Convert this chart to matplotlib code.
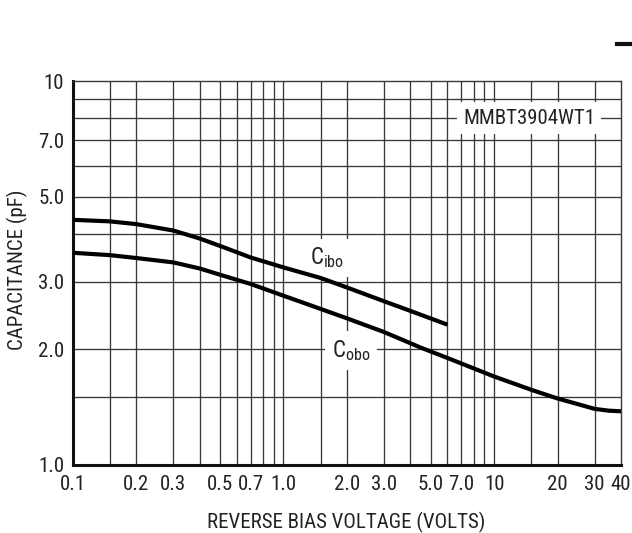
import matplotlib
matplotlib.use("Agg")
import matplotlib.pyplot as plt
from matplotlib.lines import Line2D

# narrow face if one is installed, otherwise the closest plain sans
plt.rcParams['font.family'] = ['Liberation Sans Narrow', 'Roboto Condensed', 'Roboto', 'DejaVu Sans']
plt.rcParams['font.stretch'] = 'condensed'

# data
v_cibo = [0.1, 0.15, 0.2, 0.3, 0.4, 0.5, 0.7, 1.0, 1.5, 2.0, 3.0, 4.0, 6.0]
c_cibo = [4.35, 4.31, 4.24, 4.08, 3.89, 3.72, 3.47, 3.27, 3.07, 2.90, 2.67, 2.52, 2.32]

v_cobo = [0.1, 0.15, 0.2, 0.3, 0.4, 0.5, 0.7, 1.0, 1.5, 2.0, 3.0, 4.5, 6.0, 10, 15, 20, 25, 30, 35, 40]
c_cobo = [3.57, 3.52, 3.46, 3.37, 3.25, 3.13, 2.96, 2.76, 2.55, 2.41, 2.22, 2.02, 1.90, 1.70, 1.57, 1.49, 1.44, 1.40, 1.385, 1.38]

x_grid = [0.15, 0.2, 0.3, 0.4, 0.5, 0.6, 0.7, 0.8, 0.9, 1.0, 1.5, 2, 3, 4, 5, 6, 7, 8, 9, 10, 15, 20, 30]
y_grid = [1.5, 2, 3, 4, 5, 6, 7, 8, 9]

x_ticks = [0.1, 0.2, 0.3, 0.5, 0.7, 1.0, 2.0, 3.0, 5.0, 7.0, 10, 20, 30, 40]
x_labels = ['0.1', '0.2', '0.3', '0.5', '0.7', '1.0', '2.0', '3.0', '5.0', '7.0', '10', '20', '30', '40']
y_ticks = [1.0, 2.0, 3.0, 5.0, 7.0, 10]
y_labels = ['1.0', '2.0', '3.0', '5.0', '7.0', '10']

fig = plt.figure(figsize=(6.32, 5.33), dpi=100)
ax = fig.add_axes([72.7 / 632, 68 / 533, 548.3 / 632, 384 / 533])
ax.set_xscale('log')
ax.set_yscale('log')
ax.set_xlim(0.1, 40)
ax.set_ylim(1.0, 10)

gc = '#383838'
for xv in x_grid:
    ax.axvline(xv, color=gc, lw=0.95, zorder=1)
for yv in y_grid:
    ax.axhline(yv, color=gc, lw=0.95, zorder=1)

ax.plot(v_cibo, c_cibo, color='black', lw=3.0, solid_capstyle='butt',
        solid_joinstyle='round', zorder=4)
ax.plot(v_cobo, c_cobo, color='black', lw=3.0, solid_capstyle='butt',
        solid_joinstyle='round', zorder=4)

ax.set_xticks(x_ticks)
ax.set_xticklabels(x_labels)
ax.set_yticks(y_ticks)
ax.set_yticklabels(y_labels)
ax.minorticks_off()
ax.tick_params(length=0, labelsize=15, colors='#222222')
ax.tick_params(axis='x', pad=7)
ax.tick_params(axis='y', pad=6)

for side in ['top', 'right']:
    ax.spines[side].set_linewidth(1.0)
    ax.spines[side].set_color(gc)
for side in ['left', 'bottom']:
    ax.spines[side].set_linewidth(2.2)
    ax.spines[side].set_color('#111111')

box = dict(facecolor='white', edgecolor='none', boxstyle='square,pad=0.3')
ax.text(14.66, 8.0, 'MMBT3904WT1', fontsize=15, color='#222222',
        ha='center', va='center', bbox=box, zorder=3)
ax.text(1.61, 3.46, r'$\mathregular{C_{ibo}}$', fontsize=16.5, color='#222222',
        ha='center', va='center', bbox=box, zorder=3)
ax.text(2.10, 1.99, r'$\mathregular{C_{obo}}$', fontsize=16.5, color='#222222',
        ha='center', va='center', bbox=box, zorder=3)

ax.set_xlabel('REVERSE BIAS VOLTAGE (VOLTS)', fontsize=15, color='#222222', va='top')
ax.set_ylabel('CAPACITANCE (pF)', fontsize=15, color='#222222', va='center')
ax.xaxis.set_label_coords(0.498, -0.122)
ax.yaxis.set_label_coords(-0.1, 0.508)

# small stray mark at the top right of the scan
fig.add_artist(Line2D([617 / 632, 1.0], [489 / 533, 489 / 533], color='#111111', lw=3))

fig.savefig('out.png', dpi=100)
